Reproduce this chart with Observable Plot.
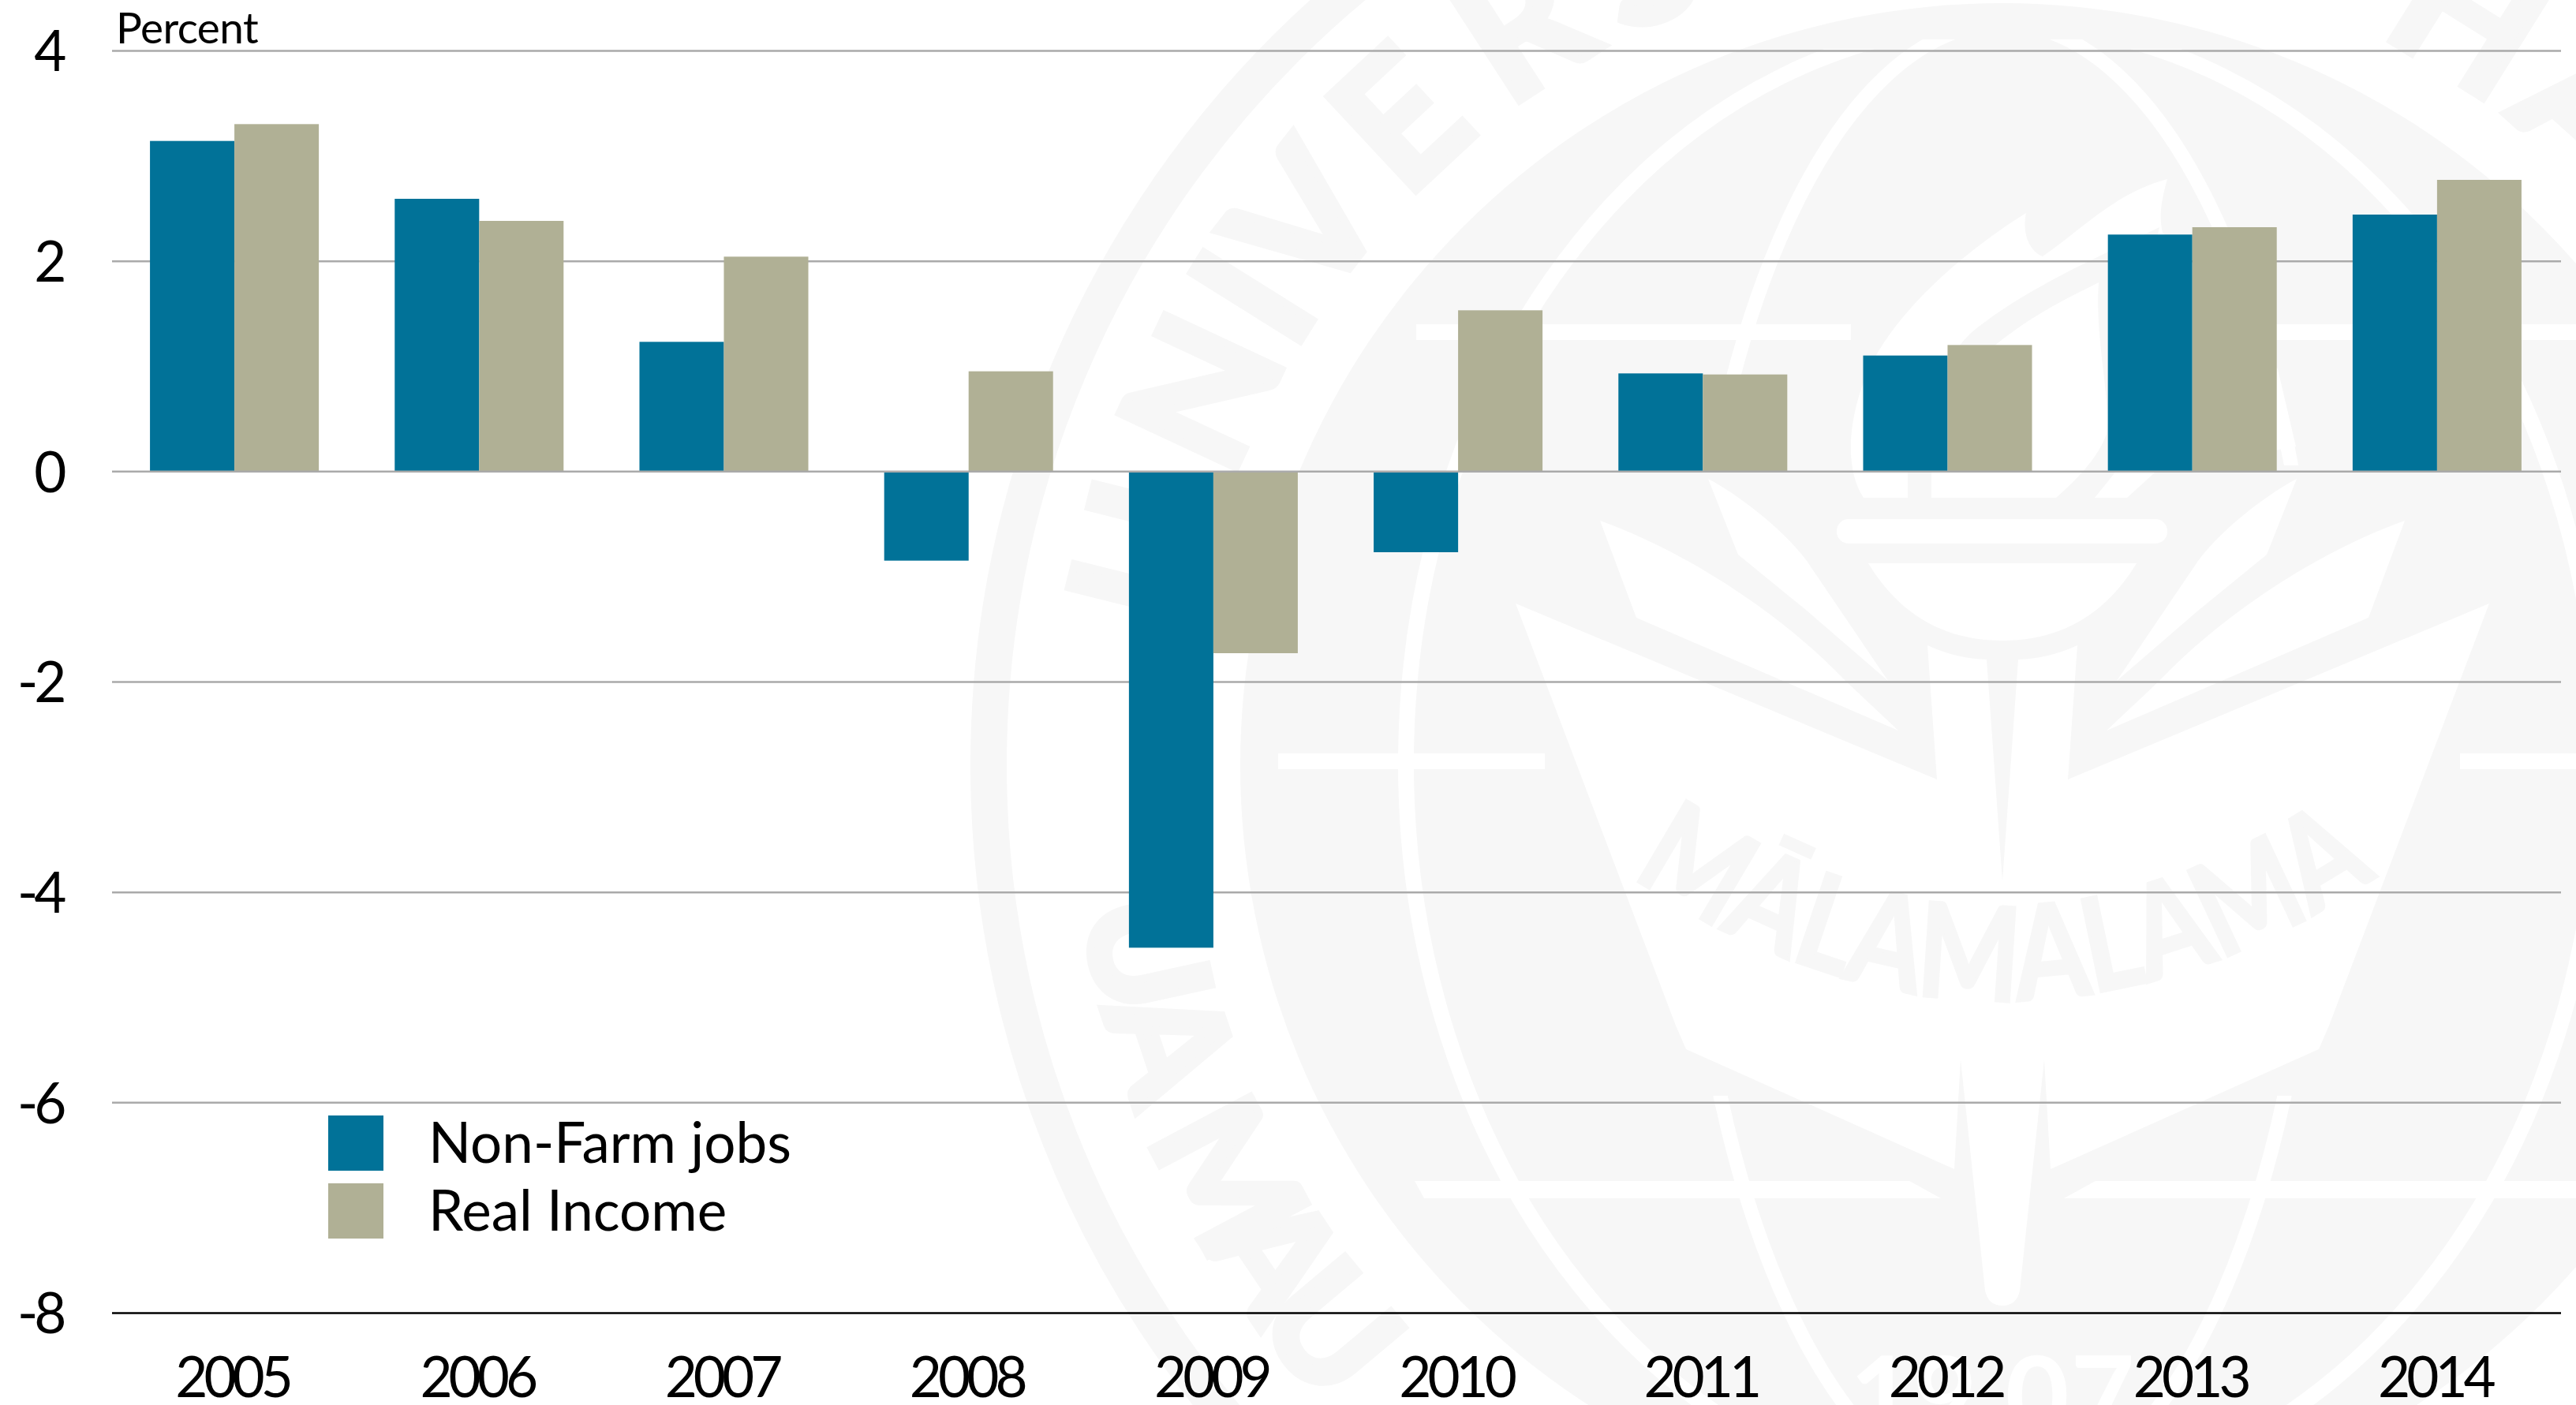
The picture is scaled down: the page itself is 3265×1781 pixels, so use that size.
<!DOCTYPE html>
<html>
<head>
<meta charset="utf-8">
<script src="https://cdn.jsdelivr.net/npm/d3@7"></script>
<script src="https://cdn.jsdelivr.net/npm/@observablehq/plot@0.6"></script>
<style>
  html, body { margin: 0; padding: 0; background: #fff; }
  #stage { position: relative; width: 3265px; height: 1781px; overflow: hidden; font-family: Lato, sans-serif; color: #000; }
  #seal, #chart { position: absolute; left: 0; top: 0; }
  #chart svg { display: block; }
  .unit { position: absolute; left: 147px; top: 1px; font-size: 55px; line-height: 66px; letter-spacing: -0.6px; }
  .key { position: absolute; left: 416px; display: flex; align-items: center; height: 70px; font-size: 71px; }
  .key i { display: block; width: 70px; height: 70px; margin-right: 57px; }
  .key span { position: relative; top: -3px; white-space: nowrap; }
</style>
</head>
<body>
<div id="stage">
  <svg id="seal" width="3265" height="1781" viewBox="0 0 3265 1781" xmlns="http://www.w3.org/2000/svg">
    <defs>
      <clipPath id="outerMeridian"><rect x="0" y="62" width="3265" height="1800"/></clipPath>
      <clipPath id="innerMeridian"><rect x="0" y="50" width="3265" height="540"/><rect x="0" y="1389" width="3265" height="500"/></clipPath>
      <g id="halfSeal">
        <path d="M1921,765 L2124,1300 L2137,1330 L2477,1482 L2485,1343 L2516,1636 Q2520,1655 2538,1655 L2538,1117 L2518,836 Q2480,835 2443,818 L2455,988 Z"/>
        <path d="M2028,660 C2140,700 2260,780 2339,863 L2406,926 L2074,783 Z"/>
        <path d="M2165,607 C2200,625 2260,670 2290,711 L2393,863 L2290,774 L2203,703 Z"/>
        <rect x="1795" y="411" width="551" height="20"/>
        <rect x="1620" y="955" width="338" height="20"/>
        <path d="M1793,1497 L2420,1497 L2460,1519 L1805,1519 Z"/>
      </g>
    </defs>
    <circle cx="2538" cy="970" r="1285" fill="none" stroke="#f7f7f7" stroke-width="46"/>
    <circle cx="2538" cy="970" r="966" fill="#f7f7f7"/>
    <g fill="none" stroke="#fff">
      <ellipse cx="2538" cy="968" rx="756" ry="938" stroke-width="20" clip-path="url(#outerMeridian)"/>
      <ellipse cx="2538" cy="968" rx="400" ry="938" stroke-width="18" clip-path="url(#innerMeridian)"/>
    </g>
    <g fill="#fff">
      <use href="#halfSeal"/>
      <use href="#halfSeal" transform="translate(5076,0) scale(-1,1)"/>
      <rect x="2328" y="658" width="419" height="31" rx="15"/>
      <path d="M2368,714 L2708,714 C2665,785 2605,812 2538,812 C2471,812 2411,785 2368,714 Z"/>
      <path d="M2568,270 C2480,325 2400,400 2369,468 C2345,520 2335,590 2362,631 L2696,631 L2731,599 L2910,566 L2887,468 C2850,400 2780,330 2741,295 C2735,270 2742,245 2747,227 C2680,245 2640,290 2589,325 C2575,320 2562,300 2568,270 Z"/>
    </g>
    <path fill="#f7f7f7" d="M2737,288 C2650,330 2560,370 2497,423 C2450,470 2425,540 2418,599 L2418,631 L2448,631 L2448,599 C2460,520 2490,470 2532,435 C2575,400 2620,378 2660,358 C2655,430 2675,500 2670,550 C2660,580 2630,610 2606,631 L2655,631 L2700,575 C2720,480 2715,380 2737,288 Z"/>
    <g fill="#f7f7f7" stroke="#f7f7f7" stroke-width="10" font-family="Lato, sans-serif" font-weight="700" font-size="225" text-anchor="middle">
      <text x="2538" y="-70" transform="rotate(-76 2538 970)">U</text>
      <text x="2538" y="-70" transform="rotate(-65 2538 970)">N</text>
      <text x="2538" y="-70" transform="rotate(-58 2538 970)">I</text>
      <text x="2538" y="-70" transform="rotate(-52 2538 970)">V</text>
      <text x="2538" y="-70" transform="rotate(-43 2538 970)">E</text>
      <text x="2538" y="-70" transform="rotate(-33 2538 970)">R</text>
      <text x="2538" y="-70" transform="rotate(-24 2538 970)">S</text>
      <text x="2538" y="-70" transform="rotate(32 2538 970)">H</text>
      <text x="2538" y="-70" transform="rotate(42 2538 970)">A</text>
    </g>
    <g fill="#f7f7f7" stroke="#f7f7f7" stroke-width="10" font-family="Lato, sans-serif" font-weight="700" font-size="195" text-anchor="middle">
      <text x="2538" y="2150" transform="rotate(77.7 2538 970)">U</text>
      <text x="2538" y="2150" transform="rotate(71.5 2538 970)">A</text>
      <text x="2538" y="2150" transform="rotate(62 2538 970)">M</text>
      <text x="2538" y="2150" transform="rotate(56 2538 970)">A</text>
      <text x="2538" y="2150" transform="rotate(50 2538 970)">U</text>
    </g>
    <text x="2385 2465 2582 2665" y="1820" fill="#fff" font-family="Lato, sans-serif" font-weight="700" font-size="140" text-anchor="middle">1907</text>
    <path id="motto" fill="none" d="M2075,1115 Q2538,1420 3005,1115"/>
    <text fill="#f7f7f7" stroke="#f7f7f7" stroke-width="4" font-family="Lato, sans-serif" font-weight="700" font-size="165" text-anchor="middle">
      <textPath href="#motto" startOffset="50%" textLength="1010" lengthAdjust="spacingAndGlyphs">MĀLAMALAMA</textPath>
    </text>
  </svg>
  <div id="chart"></div>
  <div class="unit">Percent</div>
  <div class="key" style="top:1414px"><i style="background:#017298"></i><span>Non-Farm jobs</span></div>
  <div class="key" style="top:1500px"><i style="background:#b0b095"></i><span>Real Income</span></div>
</div>
<script>
const years = ["2005","2006","2007","2008","2009","2010","2011","2012","2013","2014"];
const nonFarmJobs = [3.14, 2.59, 1.23, -0.85, -4.53, -0.77, 0.93, 1.10, 2.25, 2.44];
const realIncome  = [3.30, 2.38, 2.04, 0.95, -1.73, 1.53, 0.92, 1.20, 2.32, 2.77];
const yTicks = [4, 2, 0, -2, -4, -6, -8];
const teal = "#017298";
const tan = "#b0b095";

const jobsRows = years.map((year, i) => ({year, value: nonFarmJobs[i]}));
const incomeRows = years.map((year, i) => ({year, value: realIncome[i]}));

const chart = Plot.plot({
  width: 3265,
  height: 1781,
  marginLeft: 142,
  marginRight: 19,
  marginTop: 64,
  marginBottom: 117,
  style: {background: "transparent", fontFamily: "Lato, sans-serif", color: "#000", letterSpacing: "-5px", overflow: "visible"},
  x: {type: "band", domain: years, range: [142, 3244], paddingInner: 0.31, paddingOuter: 0.155, round: false, label: null},
  y: {domain: [-8, 4], label: null},
  marks: [
    Plot.ruleY(yTicks.filter(d => d !== 0 && d !== -8), {stroke: "#aaa", strokeWidth: 2.5}),
    Plot.barY(jobsRows, {x: "year", y: "value", fill: teal, insetRight: 107}),
    Plot.barY(incomeRows, {x: "year", y: "value", fill: tan, insetLeft: 107}),
    Plot.ruleY([0], {stroke: "#aaa", strokeWidth: 2.5}),
    Plot.ruleY([-8], {stroke: "#000", strokeWidth: 2.5}),
    Plot.axisY({ticks: yTicks, tickSize: 0, tickPadding: 63, fontSize: 71, dy: 3, tickFormat: d => String(d), label: null}),
    Plot.axisX({tickSize: 0, tickPadding: 56, fontSize: 71, dx: -3, label: null})
  ]
});
document.getElementById("chart").appendChild(chart);
</script>
</body>
</html>
